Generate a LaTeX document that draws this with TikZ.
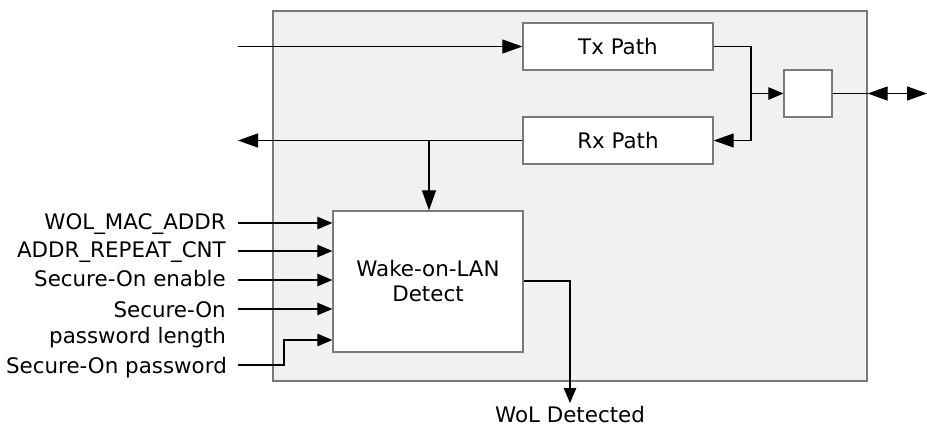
\documentclass[tikz,border=0pt]{standalone}
\usepackage{fontspec}
\setmainfont{DejaVu Sans}
\usetikzlibrary{arrows.meta,positioning}
\definecolor{chipgray}{HTML}{F1F1F1}
\definecolor{edgegray}{HTML}{7A7A7A}
\begin{document}
\begin{tikzpicture}[x=1pt,y=-1pt,font=\fontsize{21.4}{25}\selectfont,
  blk/.style={rectangle, draw=edgegray, fill=white, line width=1.3pt, inner sep=0pt},
  lbl/.style={inner sep=0pt, anchor=base east},
  arr/.style={line width=1.1pt, -{Triangle[length=20pt,width=14pt]}},
  arrs/.style={line width=1.1pt, -{Triangle[length=15pt,width=12.5pt]}},
  ln/.style={line width=1.1pt}]
  \useasboundingbox (0,0) rectangle (927,426);

  \node[rectangle, draw=edgegray, fill=chipgray, line width=1.3pt, minimum width=594pt, minimum height=370pt] (chip) at (570,196) {};

  \node[blk, minimum width=190pt, minimum height=47pt] (tx) at (618,46.5) {Tx Path};
  \node[blk, minimum width=190pt, minimum height=47pt] (rx) at (618,140.5) {Rx Path};
  \node[blk, minimum width=48pt, minimum height=47pt] (mux) at (808,93.5) {};
  \node[blk, minimum width=190pt, minimum height=141pt, align=center] (wol) at (428,281.5) {Wake-on-LAN\\Detect};

  % signal ends
  \coordinate (txin) at (238,46.5);
  \coordinate (rxout) at (238,140.5);
  \coordinate (split) at (751,93.5);
  \coordinate (tap) at (429,140.5);
  \coordinate (pin) at (927,93.5);
  \coordinate (det) at (570,403);

  \node[inner sep=0pt, anchor=base] (detlbl) at (570,422) {WoL Detected};

  \coordinate (a1) at (238,223);
  \coordinate (a2) at (238,251);
  \coordinate (a3) at (238,280);
  \coordinate (a4) at (238,309);
  \coordinate (a5) at (238,365);
  \node[lbl] (l1) at (226,229) {WOL\_MAC\_ADDR};
  \node[lbl] (l2) at (226,257) {ADDR\_REPEAT\_CNT};
  \node[lbl] (l3) at (226,286) {Secure-On enable};
  \node[inner sep=0pt, anchor=north east, align=right, font=\fontsize{21.4}{26}\selectfont] (l4) at (226,301.5) {Secure-On\\password length};
  \node[lbl] (l5) at (227,373) {Secure-On password};

  \draw[arr] (txin) -- (tx);
  \draw[ln] (tx.east) -| (split);
  \draw[arr] (split) |- (rx.east);
  \draw[arrs] (split) -- (mux);
  \draw[arr] (rx.west) -- (rxout);
  \draw[arr] (tap) -- (wol.north -| tap);
  \draw[ln] (mux.east) -- (chip.east |- mux);
  \draw[ln, {Triangle[length=20pt,width=14pt]}-{Triangle[length=20pt,width=14pt]}] (chip.east |- mux) -- (pin);

  \draw[arrs] (a1) -- (a1 -| wol.west);
  \draw[arrs] (a2) -- (a2 -| wol.west);
  \draw[arrs] (a3) -- (a3 -| wol.west);
  \draw[arrs] (a4) -- (a4 -| wol.west);
  \draw[arrs] (a5) -- (284,365) -- (284,340) -- (wol.west |- 0,340);

  \draw[arrs] (wol.east |- 0,281) -| (det);

\end{tikzpicture}
\end{document}
